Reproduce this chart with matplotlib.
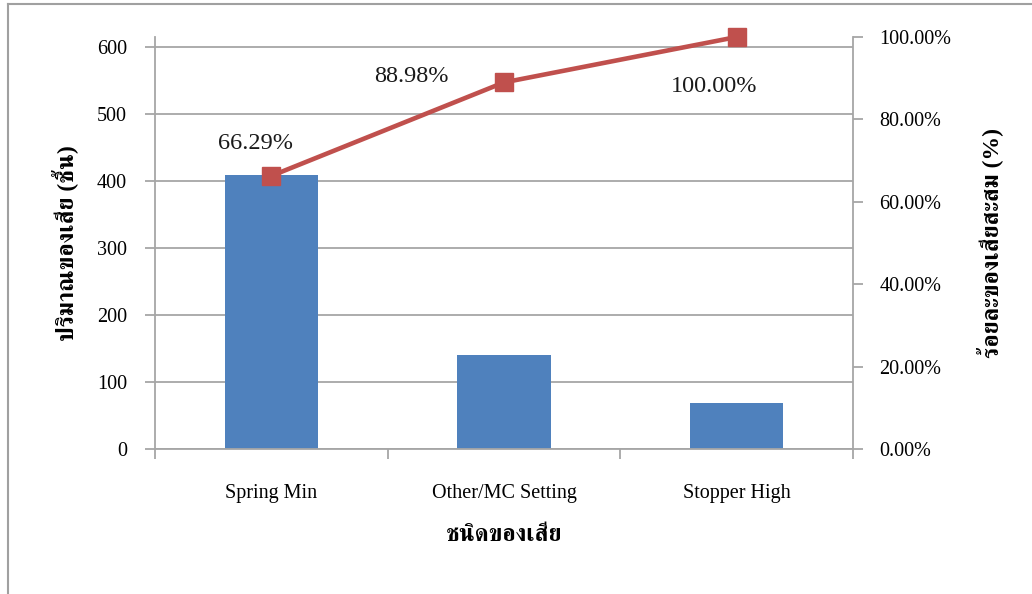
import matplotlib
matplotlib.use("Agg")
import matplotlib.pyplot as plt
from matplotlib.ticker import FixedLocator, FuncFormatter

# ---- data ----
categories = ["Spring Min", "Other/MC Setting", "Stopper High"]
defects = [409, 140, 68]
cum_pct = [0.6629, 0.8898, 1.0]
pct_labels = ["66.29%", "88.98%", "100.00%"]
left_ticks = [0, 100, 200, 300, 400, 500, 600]
right_ticks = [0.0, 0.2, 0.4, 0.6, 0.8, 1.0]

plt.rcParams["font.family"] = ["Liberation Serif", "FreeSerif", "Loma", "DejaVu Sans"]

grid_c = "#a6a6a6"
fig = plt.figure(figsize=(10.32, 5.94), dpi=100)
ax = fig.add_axes([155/1032, 1-449/594, (853-155)/1032, (449-37)/594])
ax2 = ax.twinx()

x = list(range(len(categories)))
ax.bar(x, defects, width=0.4, color="#4f81bd", zorder=2)
ax.set_xlim(-0.5, len(categories) - 0.5)
ax.set_ylim(0, 615)
ax.yaxis.set_major_locator(FixedLocator(left_ticks))
ax.grid(axis="y", color=grid_c, linewidth=1.3, zorder=0)
ax.set_axisbelow(True)

ax2.plot(x, cum_pct, color="#c0504d", linewidth=3.3, marker="s", markersize=13,
         zorder=5, clip_on=False)
ax2.set_ylim(0, 1.0)
ax2.yaxis.set_major_locator(FixedLocator(right_ticks))
ax2.yaxis.set_major_formatter(FuncFormatter(lambda v, p: f"{v*100:.2f}%"))

offsets = [(-16, 32), (-93, 6), (-23, -49)]
for xi, yi, lab, off in zip(x, cum_pct, pct_labels, offsets):
    ax2.annotate(lab, (xi, yi), xytext=off, textcoords="offset pixels",
                 ha="center", va="center", fontsize=17.5, color="#1a1a1a")

# x ticks
ax.set_xticks(x)
ax.set_xticklabels(categories, fontsize=14.5)
ax.set_xticks([-0.5, 0.5, 1.5, 2.5], minor=True)
ax.tick_params(axis="x", which="major", length=0, pad=25)
ax.tick_params(axis="x", which="minor", length=7, width=1.3, color=grid_c, direction="out")
ax.tick_params(axis="y", length=7, width=1.3, color=grid_c, labelsize=14.5, pad=13)
ax2.tick_params(axis="y", length=7, width=1.3, color=grid_c, labelsize=14.5, pad=12)

for a in (ax, ax2):
    a.spines["top"].set_visible(False)
    for s in ("left", "right", "bottom"):
        a.spines[s].set_color(grid_c)
        a.spines[s].set_linewidth(1.3)
ax.spines["right"].set_visible(False)
ax2.spines["left"].set_visible(False)
ax2.spines["bottom"].set_visible(False)

ax.set_xlabel("ชนิดของเสีย", fontsize=17, fontweight="bold", labelpad=16)
ax.set_ylabel("ปริมาณของเสีย (ชิ้น)", fontsize=17, fontweight="bold", labelpad=14)
ax2.set_ylabel("ร้อยละของเสียสะสม (%)", fontsize=17, fontweight="bold", rotation=90,
               labelpad=18)

# outer chart border (partially visible)
fig.add_artist(plt.Line2D([8/1032, 8/1032], [0, 1-4/594], color="#a0a0a0", linewidth=1.5,
                          transform=fig.transFigure))
fig.add_artist(plt.Line2D([8/1032, 1], [1-4/594, 1-4/594], color="#a0a0a0", linewidth=1.5,
                          transform=fig.transFigure))

fig.savefig("out.png", dpi=100)
